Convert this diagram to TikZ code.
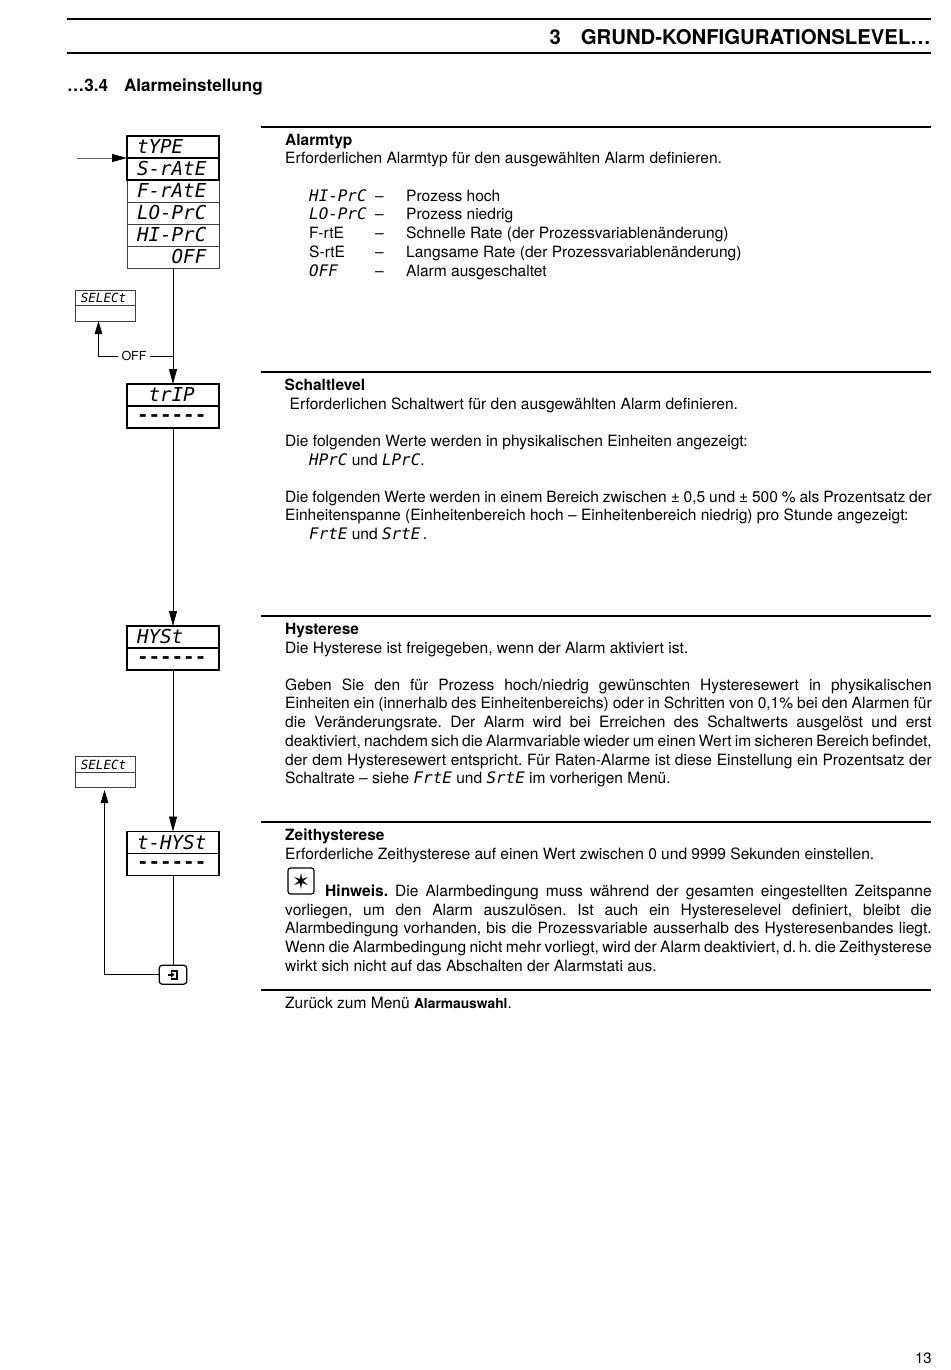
\documentclass[tikz,border=0pt]{standalone}
\usepackage{fontspec}
\setmainfont{TeX Gyre Heros}
\newfontfamily\segfont{DejaVu Sans Mono Oblique}
\newfontfamily\segdashfont{DejaVu Sans Mono Bold}
\newfontfamily\symfont{DejaVu Sans}
\usetikzlibrary{
  arrows.meta,
  positioning,
  calc
}
% Anzeigetext
\newcommand{\seg}[1]{{\segfont\fontsize{15.9}{18.7}\selectfont #1}}
\newcommand{\segdashes}{\raisebox{-4pt}[0pt][0pt]{\segdashfont\fontsize{19.2}{22}\selectfont -{}-{}-{}-{}-{}-}}
\begin{document}
\begin{tikzpicture}[
  x=1pt, y=-1pt,
  node distance=0pt,
  cell/.style={rectangle, draw=black!75, line width=1pt, outer sep=0pt, inner ysep=0pt, inner xsep=10pt, text width=72pt, minimum height=22pt, align=left, font=\segfont\fontsize{19.2}{22}\selectfont},
  cellbold/.style={cell, draw=black, line width=1.8pt},
  smallcell/.style={rectangle, draw=black!75, line width=1pt, outer sep=0pt, inner ysep=0pt, inner xsep=5pt, text width=50pt, minimum height=15.5pt, align=left, font=\segfont\fontsize{12.6}{15}\selectfont},
  txt/.style={anchor=base west, inner sep=0pt, font=\fontsize{15.55}{18.7}\selectfont},
  head/.style={txt, font=\fontsize{15.5}{18.7}\selectfont\bfseries},
  para/.style={anchor=north west, inner sep=0pt, text width=646.5pt, align=justify, font=\fontsize{15.55}{18.7}\selectfont\frenchspacing, execute at begin node=\strut},
  rulethick/.style={line width=1.5pt},
  arr/.style={-{Triangle[length=15pt, width=8pt]}, line width=.9pt},
  barr/.style={-{Triangle[length=13pt, width=7.5pt]}, line width=.9pt},
]
\useasboundingbox (0,0) rectangle (950,1370);

% Kopfzeile
\draw[rulethick] (67,19) -- (931,19);
\draw[rulethick] (67,53) -- (931,53);
\node[anchor=base east, inner sep=0pt, font=\fontsize{20.35}{24}\selectfont\bfseries] (title) at (931,45) {3\hspace{20pt}GRUND-KONFIGURATIONSLEVEL…};
\node[anchor=base west, inner sep=0pt, font=\fontsize{17.1}{20}\selectfont\bfseries] (subtitle) at (67,91.5) {…3.4\hspace{16pt}Alarmeinstellung};
\node[anchor=base east, inner sep=0pt, font=\fontsize{15}{18}\selectfont] (pagenum) at (932,1363) {13};

% Abschnittslinien
\foreach \yy in {127,372,616,822,990}
  \draw[rulethick] (261,\yy) -- (931,\yy);

% Anzeigen
\node[cell] (off) at (173,257) {\phantom{000}OFF};
\node[cell, above=of off] (hiprc) {HI-PrC};
\node[cell, above=of hiprc] (loprc) {LO-PrC};
\node[cell, above=of loprc] (frate) {F-rAtE};
\node[cellbold, above=of frate] (srate) {S-rAtE};
\node[cellbold, above=of srate] (type) {tYPE};

\node[cellbold] (trip) at (173,395) {\phantom{0}trIP};
\node[cellbold, below=of trip] (tripval) {\segdashes};
\node[cellbold] (hyst) at (173,637) {HYSt};
\node[cellbold, below=of hyst] (hystval) {\segdashes};
\node[cellbold] (thyst) at (173,842.5) {t-HYSt};
\node[cellbold, below=of thyst] (thystval) {\segdashes};

\node[smallcell] (selone) at (105.8,298) {SELECt};
\node[smallcell, below=of selone] (seloneval) {};
\node[smallcell] (seltwo) at (105.8,764.5) {SELECt};
\node[smallcell, below=of seltwo] (seltwoval) {};

\node[rectangle, rounded corners=3pt, draw=black, line width=1.2pt, outer sep=0pt, minimum width=27.5pt, minimum height=19pt, inner sep=0pt] (exitkey) at (173,974.7) {};
\node[inner sep=3pt, font=\fontsize{12.5}{14}\selectfont] (offlab) at (134,356) {OFF};
\coordinate (entry) at (77,158);
\coordinate (srateport) at (srate.west |- entry);
\coordinate (offjoin) at (off.south |- offlab);
\coordinate (seloneport) at (98.5,321);
\coordinate (seltwoport) at (104.5,790);

% Taste
\draw[line width=2.4pt] ($(exitkey)+(-2,-4)$) -- ($(exitkey)+(4,-4)$) -- ($(exitkey)+(4,4)$) -- ($(exitkey)+(-2,4)$);
\draw[-{Triangle[length=3.5pt, width=5.5pt]}, line width=1.6pt] ($(exitkey)+(-5.5,0)$) -- ($(exitkey)+(1.5,0)$);

% Verbindungen
\draw[-{Triangle[length=15pt, width=8pt, black]}, draw=black!60, line width=.8pt] (entry) -- (srateport);
\draw[arr] (off.south) -- (trip.north);
\draw[arr] (tripval.south) -- (hyst.north);
\draw[arr] (hystval.south) -- (thyst.north);
\draw[line width=.9pt] (thystval.south) -- (exitkey.north);
\draw[line width=.9pt] (offjoin) -- (offlab.east);
\draw[barr] (offlab.west) -| (seloneport);
\draw[barr] (exitkey.west) -| (seltwoport);

% Alarmtyp
\node[head] (typhead) at (285,145.3) {Alarmtyp};
\node[txt] (typtext) at (285,164) {Erforderlichen Alarmtyp für den ausgewählten Alarm definieren.};
\foreach \nn/\yy/\kk/\tt in {a/201/\seg{HI-PrC}/Prozess hoch,
    b/219.6/\seg{LO-PrC}/Prozess niedrig,
    c/238.5/F-rtE/Schnelle Rate (der Prozessvariablenänderung),
    d/257.5/S-rtE/Langsame Rate (der Prozessvariablenänderung),
    e/276/\seg{OFF}/Alarm ausgeschaltet} {
  \node[txt] (key\nn) at (309,\yy) {\kk};
  \node[txt] (dash\nn) at (375,\yy) {–};
  \node[txt] (val\nn) at (406,\yy) {\tt};
}

% Schaltlevel
\node[head] (trphead) at (284.5,390.3) {Schaltlevel};
\node[txt] (trptext) at (289.5,409) {Erforderlichen Schaltwert für den ausgewählten Alarm definieren.};
\node[txt] (trpphys) at (285,446) {Die folgenden Werte werden in physikalischen Einheiten angezeigt:};
\node[txt] (trpproc) at (309,465) {\seg{HPrC} und \seg{LPrC}.};
\node[para] (trprate) at (285,489) {Die folgenden Werte werden in einem Bereich zwischen ± 0,5 und ± 500 \% als Prozentsatz der\linebreak
Einheitenspanne (Einheitenbereich hoch – Einheitenbereich niedrig) pro Stunde angezeigt:};
\node[txt] (trprates) at (309,539.5) {\seg{FrtE} und \seg{SrtE}\,.};

% Hysterese
\node[head] (hyshead) at (285,634.3) {Hysterese};
\node[txt] (hystext) at (285,653) {Die Hysterese ist freigegeben, wenn der Alarm aktiviert ist.};
\node[para] (hyspara) at (285,677) {Geben Sie den für Prozess hoch/niedrig gewünschten Hysteresewert in physikalischen\linebreak
Einheiten ein (innerhalb des Einheitenbereichs) oder in Schritten von 0,1\% bei den Alarmen für\linebreak
die Veränderungsrate. Der Alarm wird bei Erreichen des Schaltwerts ausgelöst und erst\linebreak
deaktiviert, nachdem sich die Alarmvariable wieder um einen Wert im sicheren Bereich befindet,\linebreak
der dem Hysteresewert entspricht. Für Raten-Alarme ist diese Einstellung ein Prozentsatz der\linebreak
Schaltrate – siehe \seg{FrtE} und \seg{SrtE} im vorherigen Menü.};

% Zeithysterese
\node[head] (thyhead) at (285,840.3) {Zeithysterese};
\node[txt] (thytext) at (285,859) {Erforderliche Zeithysterese auf einen Wert zwischen 0 und 9999 Sekunden einstellen.};
\node[rectangle, rounded corners=2.5pt, draw=black, line width=1.2pt, minimum size=26pt, inner sep=0pt, font=\symfont\fontsize{22}{22}\selectfont] (hintbox) at (301,881) {✶};
\node[para] (thypara) at (285,883) {\hspace{40pt}\textbf{Hinweis.} Die Alarmbedingung muss während der gesamten eingestellten Zeitspanne\linebreak
vorliegen, um den Alarm auszulösen. Ist auch ein Hystereselevel definiert, bleibt die\linebreak
Alarmbedingung vorhanden, bis die Prozessvariable ausserhalb des Hysteresenbandes liegt.\linebreak
Wenn die Alarmbedingung nicht mehr vorliegt, wird der Alarm deaktiviert, d.\,h. die Zeithysterese\linebreak
wirkt sich nicht auf das Abschalten der Alarmstati aus.};
\node[txt] (backtext) at (285,1008) {Zurück zum Menü {\fontsize{13.8}{18}\selectfont\bfseries Alarmauswahl}.};

\end{tikzpicture}
\end{document}
